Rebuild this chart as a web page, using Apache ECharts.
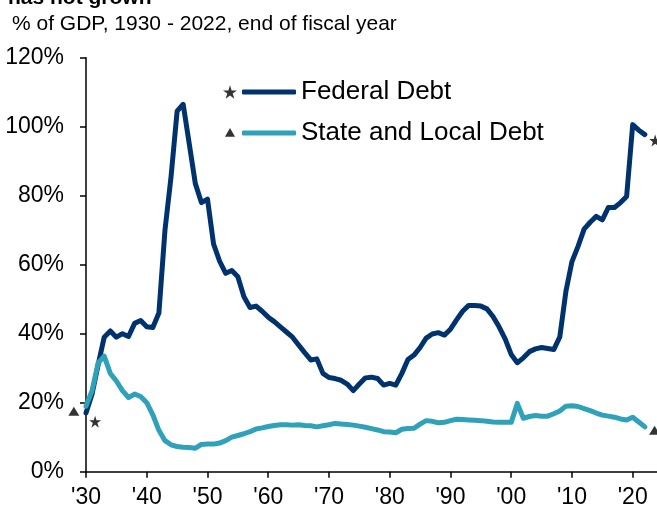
<!DOCTYPE html>
<html>
<head>
<meta charset="utf-8">
<script src="https://cdn.jsdelivr.net/npm/echarts@6/dist/echarts.min.js"></script>
<style>
  html, body { margin: 0; padding: 0; background: #fff; }
  #chart { width: 657px; height: 514px; }
</style>
</head>
<body>
<div id="chart"></div>
<script>
// ---- Data ----
const years = [];
for (let y = 1930; y <= 2022; y++) years.push(y);

const federalDebt = [
  17, 22.5, 31, 39, 40.8, 39, 40, 39.2, 43, 43.8,          // 1930-1939
  42, 41.8, 46, 70, 85.5, 104.5, 106.5, 95, 83.5, 78,      // 1940-1949
  79, 66, 61, 57.5, 58.3, 56.5, 50.7, 47.6, 48, 46.5,      // 1950-1959
  44.8, 43.5, 42, 40.5, 39, 36.7, 34.5, 32.4, 32.7, 28.5,  // 1960-1969
  27.3, 27, 26.5, 25.4, 23.5, 25.4, 27.2, 27.4, 27, 25.1,  // 1970-1979
  25.6, 25.1, 28.5, 32.5, 33.8, 36, 38.7, 39.9, 40.3, 39.6,// 1980-1989
  41.3, 44, 46.5, 48.2, 48.2, 48, 47.2, 45, 42, 38.5,      // 1990-1999
  34, 31.6, 33, 34.8, 35.6, 36, 35.7, 35.4, 39.1, 52.2,    // 2000-2009
  60.9, 65.3, 70.3, 72.3, 74, 73, 76.6, 76.6, 78, 79.8,    // 2010-2019
  100.6, 99, 97.7                                          // 2020-2022
];

const stateLocalDebt = [
  19, 23.5, 31.5, 33.5, 28.5, 26.3, 23.5, 21.5, 22.5, 21.8, // 1930-1939
  20, 16.5, 12, 9, 7.8, 7.3, 7.1, 7, 6.8, 7.9,             // 1940-1949
  8, 8, 8.3, 9, 10, 10.5, 11, 11.6, 12.4, 12.7,             // 1950-1959
  13.1, 13.4, 13.6, 13.6, 13.5, 13.6, 13.4, 13.3, 13, 13.3, // 1960-1969
  13.6, 14, 13.8, 13.7, 13.5, 13.2, 12.9, 12.5, 12.1, 11.6, // 1970-1979
  11.5, 11.3, 12.3, 12.5, 12.6, 13.8, 14.8, 14.6, 14.2, 14.3,// 1980-1989
  14.8, 15.2, 15.1, 15, 14.9, 14.8, 14.6, 14.4, 14.3, 14.3, // 1990-1999
  14.3, 19.8, 15.5, 16, 16.3, 16.1, 16.1, 16.8, 17.6, 19,   // 2000-2009
  19.1, 18.9, 18.3, 17.7, 17, 16.4, 16.1, 15.8, 15.3, 15,   // 2010-2019
  15.8, 14.4, 13                                            // 2020-2022
];

// marker positions (year, % of GDP)
const federalMarkers = [[1931.5, 14.5], [2023.7, 96]];
const stateMarkers = [[1928, 17.5], [2023.6, 12]];

const yTicks = [0, 20, 40, 60, 80, 100, 120];
const xTickYears = [1930, 1940, 1950, 1960, 1970, 1980, 1990, 2000, 2010, 2020];

const titleText = 'has not grown';
const subtitleText = '% of GDP, 1930 - 2022, end of fiscal year';
const seriesNames = ['Federal Debt', 'State and Local Debt'];
const markerNames = ['Federal marker', 'State marker'];

// ---- Build ----
const NAVY = '#00336e';
const TEAL = '#2fa1b9';
const FONT = 'Liberation Sans, Arial, sans-serif';
const STAR = 'path://M50,0 L61.2,34.5 L97.6,34.5 L68.2,55.9 L79.4,90.5 L50,69.1 L20.6,90.5 L31.8,55.9 L2.4,34.5 L38.8,34.5 Z';
// triangle with padding (tiny corner anchors keep the 0..100 box)
const TRI_PAD = 'path://M50,16 L86,80 L14,80 Z M0,0 L0.01,0 L0,0.01 Z M100,100 L99.99,100 L100,99.99 Z';

const pair = (xs, ys) => xs.map((x, i) => [x, ys[i]]);

const chart = echarts.init(document.getElementById('chart'), null, { renderer: 'canvas' });
chart.setOption({
  animation: false,
  backgroundColor: '#fff',
  title: [
    { text: titleText, left: 8, top: -12, padding: 0,
      textStyle: { fontFamily: FONT, fontSize: 21, fontWeight: 'bold', color: '#000' } },
    { text: subtitleText, left: 12, top: 14, padding: 0,
      textStyle: { fontFamily: FONT, fontSize: 21, fontWeight: 'normal', color: '#000' } }
  ],
  legend: [
    {
      data: [{ name: markerNames[0], icon: STAR }, { name: markerNames[1], icon: TRI_PAD }],
      orient: 'vertical',
      left: 223, top: 85, padding: 0,
      itemWidth: 14, itemHeight: 14,
      itemGap: 27,
      formatter: () => '',
      selectedMode: false,
      textStyle: { fontSize: 1 }
    },
    {
      data: seriesNames,
      orient: 'vertical',
      left: 242, top: 79, padding: 0,
      icon: 'roundRect',
      itemWidth: 54, itemHeight: 5,
      itemGap: 15,
      selectedMode: false,
      textStyle: { fontFamily: FONT, fontSize: 26, color: '#000', lineHeight: 26 }
    }
  ],
  grid: { left: 86, top: 57.7, width: 574.4, height: 414, containLabel: false },
  xAxis: {
    type: 'value',
    min: 1930, max: 2024, interval: 10,
    axisLine: { show: true, lineStyle: { color: '#000', width: 1.5 } },
    axisTick: { show: true, length: 6, lineStyle: { color: '#000', width: 1.5 },
                customValues: xTickYears },
    axisLabel: {
      show: true, margin: 14,
      fontFamily: FONT, fontSize: 23, color: '#000',
      customValues: xTickYears,
      formatter: v => (v % 10 === 0 && v <= 2020) ? "'" + String(v).slice(2) : ''
    },
    splitLine: { show: false }
  },
  yAxis: {
    type: 'value',
    min: 0, max: 120, interval: 20,
    axisLine: { show: true, lineStyle: { color: '#000', width: 1.5 } },
    axisTick: { show: true, length: 6, lineStyle: { color: '#000', width: 1.5 } },
    axisLabel: {
      margin: 22,
      fontFamily: FONT, fontSize: 23, color: '#000',
      formatter: v => yTicks.includes(v) ? v + '%' : ''
    },
    splitLine: { show: false }
  },
  series: [
    {
      name: seriesNames[0], type: 'line', data: pair(years, federalDebt),
      symbol: 'none', color: NAVY,
      lineStyle: { color: NAVY, width: 5, join: 'round', cap: 'round' },
      z: 3
    },
    {
      name: seriesNames[1], type: 'line', data: pair(years, stateLocalDebt),
      symbol: 'none', color: TEAL,
      lineStyle: { color: TEAL, width: 5, join: 'round', cap: 'round' },
      z: 4
    },
    {
      name: markerNames[0], type: 'scatter', data: federalMarkers,
      symbol: STAR, symbolSize: 12, clip: false,
      itemStyle: { color: '#000' }, z: 5
    },
    {
      name: markerNames[1], type: 'scatter', data: stateMarkers,
      symbol: 'triangle', symbolSize: [11, 9], clip: false,
      itemStyle: { color: '#000' }, z: 5
    }
  ]
});
</script>
</body>
</html>
